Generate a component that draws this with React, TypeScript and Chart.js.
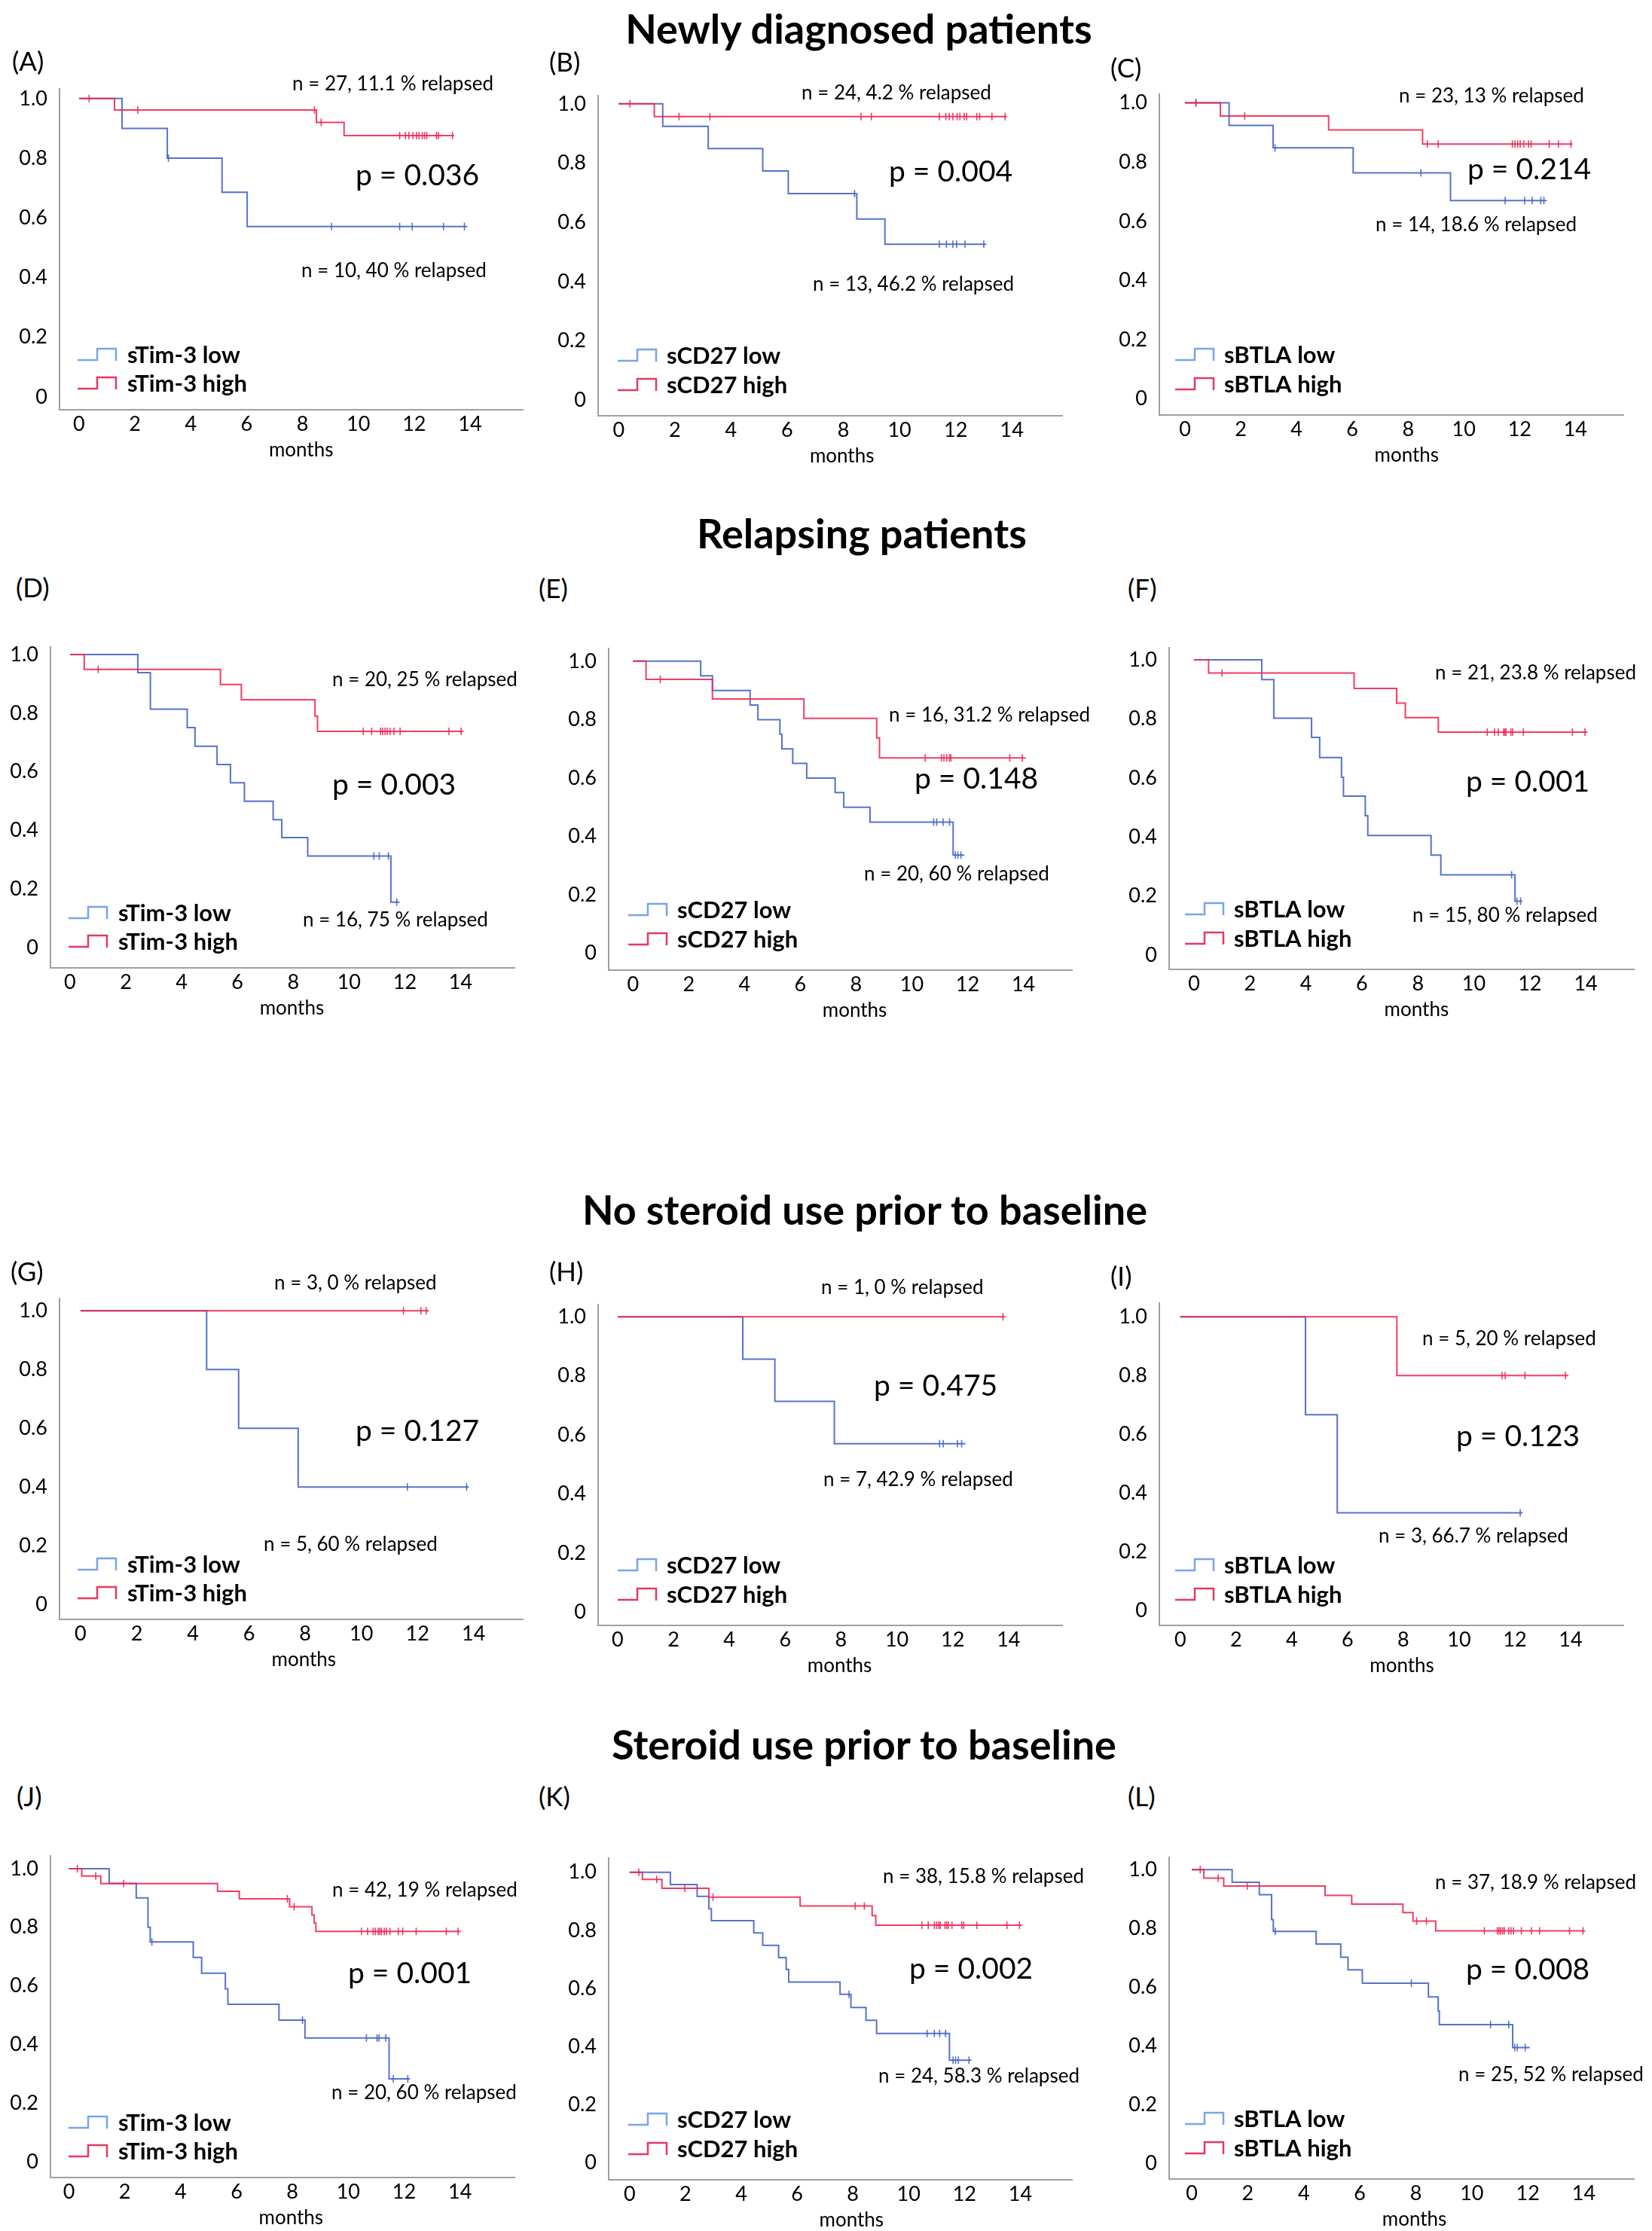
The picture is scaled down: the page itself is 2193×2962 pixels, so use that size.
import React, { useEffect, useRef } from "react";
import { Chart, registerables } from "chart.js";

Chart.register(...registerables);

if (typeof document !== "undefined") {
  document.body.style.margin = "0";
}

// ======================= DATA =======================
const monthTicks = [0, 2, 4, 6, 8, 10, 12, 14];
const survivalTicks = [0, 0.2, 0.4, 0.6, 0.8, 1.0];
const xAxisTitle = "months";
const markerNames = ["sTim-3", "sCD27", "sBTLA"];
const sectionTitles = [
  "Newly diagnosed patients",
  "Relapsing patients",
  "No steroid use prior to baseline",
  "Steroid use prior to baseline",
];
const panelLetters = ["A", "B", "C", "D", "E", "F", "G", "H", "I", "J", "K", "L"];
const pValues = ["0.036", "0.004", "0.214", "0.003", "0.148", "0.001", "0.127", "0.475", "0.123", "0.001", "0.002", "0.008"];
const highSummaries = [
  "n = 27, 11.1 % relapsed", "n = 24, 4.2 % relapsed", "n = 23, 13 % relapsed",
  "n = 20, 25 % relapsed", "n = 16, 31.2 % relapsed", "n = 21, 23.8 % relapsed",
  "n = 3, 0 % relapsed", "n = 1, 0 % relapsed", "n = 5, 20 % relapsed",
  "n = 42, 19 % relapsed", "n = 38, 15.8 % relapsed", "n = 37, 18.9 % relapsed",
];
const lowSummaries = [
  "n = 10, 40 % relapsed", "n = 13, 46.2 % relapsed", "n = 14, 18.6 % relapsed",
  "n = 16, 75 % relapsed", "n = 20, 60 % relapsed", "n = 15, 80 % relapsed",
  "n = 5, 60 % relapsed", "n = 7, 42.9 % relapsed", "n = 3, 66.7 % relapsed",
  "n = 20, 60 % relapsed", "n = 24, 58.3 % relapsed", "n = 25, 52 % relapsed",
];

// Kaplan-Meier steps: [month, survival after event]; first = start, last = end of follow-up
const aLowSteps = [[0, 1], [1.54, 0.9], [3.16, 0.8], [5.12, 0.686], [6.02, 0.571], [13.9, 0.571]];
const aLowCensored = [3.2, 9.04, 11.48, 11.93, 13.05, 13.8];
const aHighSteps = [[0, 1], [1.27, 0.962], [8.5, 0.92], [9.49, 0.876], [13.43, 0.876]];
const aHighCensored = [0.36, 2.1, 8.43, 8.67, 11.48, 11.69, 11.81, 11.96, 12.08, 12.17, 12.29, 12.37, 12.45, 12.8, 12.87, 13.37];

const bLowSteps = [[0, 1], [1.57, 0.924], [3.19, 0.849], [5.13, 0.773], [6.04, 0.697], [8.48, 0.611], [9.48, 0.526], [13.09, 0.526]];
const bLowCensored = [8.4, 11.42, 11.67, 11.9, 12.03, 12.33, 13.0];
const bHighSteps = [[0, 1], [1.27, 0.957], [13.82, 0.957]];
const bHighCensored = [0.4, 2.15, 3.25, 8.63, 9.0, 11.42, 11.65, 11.77, 11.9, 12.05, 12.15, 12.3, 12.39, 12.75, 12.85, 13.29, 13.76];

const cLowSteps = [[0, 1], [1.58, 0.924], [3.16, 0.848], [6.03, 0.764], [9.52, 0.67], [12.97, 0.67]];
const cLowCensored = [0.39, 3.23, 8.46, 11.48, 12.18, 12.45, 12.76, 12.87];
const cHighSteps = [[0, 1], [1.27, 0.956], [5.15, 0.909], [8.52, 0.861], [13.9, 0.861]];
const cHighCensored = [0.39, 2.14, 8.69, 9.08, 11.74, 11.83, 11.93, 12.02, 12.15, 12.32, 12.41, 13.06, 13.39, 13.84];

const dLowSteps = [[0, 1], [2.43, 0.938], [2.88, 0.814], [4.2, 0.751], [4.48, 0.687], [5.27, 0.625], [5.75, 0.563], [6.25, 0.5], [7.28, 0.437], [7.59, 0.376], [8.52, 0.313], [11.5, 0.156], [11.81, 0.156]];
const dLowCensored = [10.89, 11.08, 11.41, 11.71];
const dHighSteps = [[0, 1], [0.51, 0.949], [5.39, 0.898], [6.14, 0.846], [8.78, 0.79], [8.87, 0.738], [14.1, 0.738]];
const dHighCensored = [1.01, 10.51, 10.81, 11.13, 11.2, 11.29, 11.37, 11.47, 11.61, 11.83, 13.58, 14.02];

const eLowSteps = [[0, 1], [2.43, 0.95], [2.85, 0.9], [4.2, 0.85], [4.48, 0.8], [5.27, 0.75], [5.34, 0.7], [5.73, 0.65], [6.23, 0.6], [7.25, 0.55], [7.56, 0.5], [8.5, 0.449], [11.48, 0.336], [11.88, 0.336]];
const eLowCensored = [10.78, 10.89, 11.12, 11.35, 11.56, 11.65, 11.76];
const eHighSteps = [[0, 1], [0.47, 0.938], [2.85, 0.871], [6.13, 0.804], [8.74, 0.737], [8.84, 0.669], [14.08, 0.669]];
const eHighCensored = [0.98, 10.48, 11.06, 11.15, 11.25, 11.35, 11.4, 13.51, 13.96];

const fLowSteps = [[0, 1], [2.42, 0.933], [2.85, 0.802], [4.2, 0.737], [4.49, 0.669], [5.27, 0.602], [5.34, 0.538], [6.12, 0.472], [6.21, 0.405], [8.47, 0.339], [8.82, 0.272], [11.47, 0.183], [11.73, 0.183]];
const fLowCensored = [11.35, 11.54, 11.67];
const fHighSteps = [[0, 1], [0.52, 0.955], [5.72, 0.903], [7.24, 0.853], [7.55, 0.804], [8.73, 0.755], [14.06, 0.755]];
const fHighCensored = [1.0, 10.48, 10.74, 10.87, 11.06, 11.11, 11.15, 11.32, 11.38, 11.77, 13.52, 13.97];

const gLowSteps = [[0, 1], [4.49, 0.8], [5.63, 0.6], [7.75, 0.4], [13.83, 0.4]];
const gLowCensored = [11.64, 13.75];
const gHighSteps = [[0, 1], [12.4, 1]];
const gHighCensored = [11.5, 12.12, 12.31];

const hLowSteps = [[0, 1], [4.48, 0.857], [5.63, 0.714], [7.76, 0.571], [12.46, 0.571]];
const hLowCensored = [11.53, 11.66, 12.17, 12.32];
const hHighSteps = [[0, 1], [13.89, 1]];
const hHighCensored = [13.8];

const iLowSteps = [[0, 1], [4.49, 0.667], [5.63, 0.333], [12.28, 0.333]];
const iLowCensored = [12.19];
const iHighSteps = [[0, 1], [7.77, 0.8], [13.92, 0.8]];
const iHighCensored = [11.54, 11.65, 12.36, 13.81];

const jLowSteps = [[0, 1], [1.44, 0.95], [2.41, 0.9], [2.83, 0.8], [2.91, 0.75], [4.45, 0.697], [4.75, 0.643], [5.6, 0.59], [5.69, 0.537], [7.52, 0.483], [8.45, 0.422], [11.46, 0.283], [12.21, 0.283]];
const jLowCensored = [2.97, 8.36, 10.65, 11.03, 11.1, 11.34, 11.61, 12.13];
const jHighSteps = [[0, 1], [0.46, 0.975], [1.14, 0.949], [5.32, 0.923], [6.1, 0.897], [7.9, 0.87], [8.7, 0.842], [8.78, 0.815], [8.84, 0.786], [14.02, 0.786]];
const jHighCensored = [0.3, 0.96, 1.96, 7.82, 8.06, 10.47, 10.69, 10.89, 10.97, 11.07, 11.13, 11.19, 11.29, 11.37, 11.49, 11.79, 11.95, 12.43, 13.51, 13.93];

const kLowSteps = [[0, 1], [1.46, 0.958], [2.42, 0.917], [2.84, 0.874], [2.93, 0.833], [4.45, 0.791], [4.77, 0.748], [5.34, 0.706], [5.61, 0.665], [5.7, 0.622], [7.54, 0.58], [7.93, 0.534], [8.47, 0.49], [8.85, 0.445], [11.46, 0.353], [12.25, 0.353]];
const kLowCensored = [7.86, 10.66, 10.92, 11.11, 11.32, 11.59, 11.68, 11.78, 12.16];
const kHighSteps = [[0, 1], [0.46, 0.975], [1.16, 0.945], [2.84, 0.914], [6.11, 0.884], [8.69, 0.851], [8.82, 0.818], [14.06, 0.818]];
const kHighCensored = [0.33, 0.97, 1.98, 2.99, 8.08, 8.41, 10.47, 10.7, 10.92, 11.0, 11.08, 11.13, 11.3, 11.36, 11.42, 11.55, 11.9, 11.97, 12.44, 13.52, 13.97];

const lLowSteps = [[0, 1], [1.44, 0.957], [2.41, 0.915], [2.85, 0.83], [2.91, 0.79], [4.44, 0.747], [5.32, 0.702], [5.58, 0.659], [6.09, 0.614], [8.45, 0.567], [8.8, 0.519], [8.84, 0.473], [11.46, 0.395], [12.07, 0.395]];
const lLowCensored = [2.98, 7.84, 10.67, 11.32, 11.53, 11.62, 11.91];
const lHighSteps = [[0, 1], [0.43, 0.971], [1.14, 0.944], [4.76, 0.912], [5.71, 0.883], [7.54, 0.854], [7.9, 0.825], [8.71, 0.792], [14.05, 0.792]];
const lHighCensored = [0.3, 0.94, 1.98, 8.03, 8.38, 10.45, 10.91, 10.97, 11.03, 11.1, 11.16, 11.32, 11.4, 11.49, 11.77, 12.13, 12.42, 13.49, 13.97];

const lowStepsByPanel = [aLowSteps, bLowSteps, cLowSteps, dLowSteps, eLowSteps, fLowSteps, gLowSteps, hLowSteps, iLowSteps, jLowSteps, kLowSteps, lLowSteps];
const lowCensoredByPanel = [aLowCensored, bLowCensored, cLowCensored, dLowCensored, eLowCensored, fLowCensored, gLowCensored, hLowCensored, iLowCensored, jLowCensored, kLowCensored, lLowCensored];
const highStepsByPanel = [aHighSteps, bHighSteps, cHighSteps, dHighSteps, eHighSteps, fHighSteps, gHighSteps, hHighSteps, iHighSteps, jHighSteps, kHighSteps, lHighSteps];
const highCensoredByPanel = [aHighCensored, bHighCensored, cHighCensored, dHighCensored, eHighCensored, fHighCensored, gHighCensored, hHighCensored, iHighCensored, jHighCensored, kHighCensored, lHighCensored];

// ======================= LAYOUT / STYLE =======================
const PAGE_W = 2193;
const PAGE_H = 2962;
const ML = 80; // y-axis area width
const MR = 10;
const MT = 20;
const MB = 80; // x-axis area height
const FONT = "Lato, 'Open Sans', sans-serif";
const LOW_COLOR = "rgba(66, 100, 200, 0.9)";
const HIGH_COLOR = "rgba(238, 40, 84, 0.9)";
const LOW_ICON = "#78a4ea";
const HIGH_ICON = "#e43a62";
const AXIS_COLOR = "#a0a0a0";

// plot area boxes [left, top, right, bottom] in page pixels
const plotBoxes = [
  [79, 106, 694, 544], [794, 115, 1410, 552], [1539, 113, 2155, 551],
  [67, 847, 683, 1285], [808, 849, 1423, 1288], [1552, 848, 2169, 1287],
  [79, 1712, 694, 2150], [794, 1720, 1410, 2158], [1539, 1718, 2155, 2158],
  [67, 2452, 683, 2891], [808, 2455, 1423, 2894], [1552, 2454, 2169, 2893],
];
const xRanges = [
  [-0.70, 15.89], [-0.73, 15.79], [-0.92, 15.72],
  [-0.70, 15.93], [-0.87, 15.74], [-0.89, 15.72],
  [-0.75, 15.75], [-0.70, 15.92], [-0.75, 15.89],
  [-0.66, 15.95], [-0.75, 15.85], [-0.81, 15.79],
];
const yRanges = [
  [-0.043, 1.032], [-0.053, 1.027], [-0.054, 1.029],
  [-0.068, 1.025], [-0.058, 1.043], [-0.048, 1.04],
  [-0.051, 1.041], [-0.044, 1.041], [-0.05, 1.046],
  [-0.054, 1.043], [-0.059, 1.048], [-0.052, 1.041],
];
const sectionPos = [[1140, 38], [1144, 708], [1148, 1606], [1147, 2316]];
const letterPos = [
  [16, 80], [729, 81], [1474, 89],
  [21, 779], [715, 780], [1497, 780],
  [14, 1687], [729, 1687], [1474, 1693],
  [22, 2384], [715, 2384], [1497, 2384],
];
const highTextPos = [
  [388, 110], [1064, 122], [1857, 126],
  [441, 901], [1180, 948], [1905, 892],
  [364, 1702], [1090, 1708], [1888, 1776],
  [441, 2508], [1172, 2490], [1905, 2498],
];
const lowTextPos = [
  [400, 358], [1079, 376], [1826, 297],
  [402, 1220], [1147, 1159], [1875, 1214],
  [350, 2049], [1093, 1963], [1830, 2038],
  [440, 2777], [1166, 2755], [1936, 2753],
];
const pTextPos = [
  [472, 231], [1180, 226], [1948, 223],
  [441, 1040], [1214, 1032], [1946, 1036],
  [472, 1898], [1160, 1838], [1933, 1905],
  [462, 2618], [1207, 2612], [1946, 2613],
];
// legend offsets per column: [iconDx, textDx, row1Dy, row2Dy] relative to plot left/bottom
const legendOffsets = [
  [24, 90, -72, -34],
  [26, 91, -79, -40],
  [21, 86, -79, -40],
];

function survivalAt(steps: number[][], t: number): number {
  let s = steps[0][1];
  for (const [x, y] of steps) {
    if (x <= t + 1e-9) s = y;
  }
  return s;
}

const kmDecor = {
  id: "kmDecor",
  afterDraw(chart: any, _args: any, opts: any) {
    const { ctx, chartArea, scales } = chart;
    ctx.save();
    ctx.fillStyle = "#000";
    ctx.font = `26px ${FONT}`;
    ctx.textAlign = "center";
    ctx.textBaseline = "middle";
    ctx.fillText(opts.xTitle, scales.x.getPixelForValue(opts.xTitleAt), chartArea.bottom + 54);
    const [iconDx, textDx, r1, r2] = opts.legend;
    const rows = [r1, r2];
    opts.items.forEach((item: any, k: number) => {
      const cy = chartArea.bottom + rows[k];
      const x = chartArea.left + iconDx;
      ctx.strokeStyle = item.color;
      ctx.lineWidth = 2.5;
      ctx.beginPath();
      ctx.moveTo(x, cy + 6);
      ctx.lineTo(x + 26, cy + 6);
      ctx.lineTo(x + 26, cy - 9);
      ctx.lineTo(x + 51, cy - 9);
      ctx.lineTo(x + 51, cy + 7);
      ctx.stroke();
      ctx.fillStyle = "#000";
      ctx.font = `bold 31px ${FONT}`;
      ctx.textAlign = "left";
      ctx.textBaseline = "middle";
      ctx.fillText(item.label, chartArea.left + textDx, cy);
    });
    ctx.restore();
  },
};

function buildConfig(i: number): any {
  const col = i % 3;
  const marker = markerNames[col];
  const lowLabel = `${marker} low`;
  const highLabel = `${marker} high`;
  const lowSteps = lowStepsByPanel[i];
  const highSteps = highStepsByPanel[i];
  const lineDs = (label: string, steps: number[][], color: string) => ({
    label,
    data: steps.map(([x, y]) => ({ x, y })),
    stepped: "before",
    borderColor: color,
    borderWidth: 2,
    pointRadius: 0,
    fill: false,
    tension: 0,
  });
  const censorDs = (label: string, steps: number[][], times: number[], color: string) => ({
    label,
    data: times.map((t) => ({ x: t, y: survivalAt(steps, t) })),
    showLine: false,
    pointStyle: "line",
    pointRotation: 90,
    pointRadius: 5,
    pointBorderColor: color,
    pointBackgroundColor: color,
    pointBorderWidth: 1.6,
  });
  const tickFont = { family: FONT, size: 27 };
  return {
    type: "line",
    data: {
      datasets: [
        censorDs(highLabel + " censored", highSteps, highCensoredByPanel[i], HIGH_COLOR),
        censorDs(lowLabel + " censored", lowSteps, lowCensoredByPanel[i], LOW_COLOR),
        lineDs(highLabel, highSteps, HIGH_COLOR),
        lineDs(lowLabel, lowSteps, LOW_COLOR),
      ],
    },
    options: {
      responsive: false,
      maintainAspectRatio: false,
      animation: false,
      devicePixelRatio: 1,
      events: [],
      layout: { padding: { left: 0, right: MR, top: MT, bottom: 0 } },
      plugins: {
        legend: { display: false },
        tooltip: { enabled: false },
        kmDecor: {
          xTitle: xAxisTitle,
          xTitleAt: 7.95,
          legend: legendOffsets[col],
          items: [
            { label: lowLabel, color: LOW_ICON },
            { label: highLabel, color: HIGH_ICON },
          ],
        },
      },
      scales: {
        x: {
          type: "linear",
          min: xRanges[i][0],
          max: xRanges[i][1],
          afterBuildTicks: (s: any) => {
            s.ticks = monthTicks.map((value) => ({ value }));
          },
          afterFit: (s: any) => {
            s.height = MB;
          },
          grid: { display: false, drawTicks: false, tickLength: 0 },
          border: { display: true, color: AXIS_COLOR, width: 2 },
          ticks: { font: tickFont, color: "#000", padding: 3, autoSkip: false, maxRotation: 0, minRotation: 0 },
        },
        y: {
          type: "linear",
          min: yRanges[i][0],
          max: yRanges[i][1],
          afterBuildTicks: (s: any) => {
            s.ticks = survivalTicks.map((value) => ({ value }));
          },
          afterFit: (s: any) => {
            s.width = ML;
          },
          grid: { display: false, drawTicks: false, tickLength: 0 },
          border: { display: true, color: AXIS_COLOR, width: 2 },
          ticks: {
            font: tickFont,
            color: "#000",
            padding: 16,
            autoSkip: false,
            callback: (v: any) => (Number(v) === 0 ? "0" : Number(v).toFixed(1)),
          },
        },
      },
    },
    plugins: [kmDecor],
  };
}

function Panel({ index }: { index: number }) {
  const ref = useRef<HTMLCanvasElement | null>(null);
  const [L, T, R, B] = plotBoxes[index];
  const w = R - L + ML + MR;
  const h = B - T + MT + MB;
  useEffect(() => {
    if (!ref.current) return;
    const chart = new Chart(ref.current, buildConfig(index));
    return () => chart.destroy();
  }, [index]);
  return (
    <canvas
      ref={ref}
      width={w}
      height={h}
      style={{ position: "absolute", left: L - ML, top: T - MT, width: w, height: h }}
    />
  );
}

const textBase: React.CSSProperties = {
  position: "absolute",
  whiteSpace: "nowrap",
  lineHeight: 1,
  color: "#000",
  fontFamily: FONT,
};

export default function App() {
  return (
    <div style={{ position: "relative", width: PAGE_W, height: PAGE_H, background: "#fff", overflow: "hidden" }}>
      {sectionTitles.map((t, k) => (
        <div
          key={t}
          style={{ ...textBase, left: sectionPos[k][0], top: sectionPos[k][1], transform: "translate(-50%, -50%)", fontSize: 54, fontWeight: 700 }}
        >
          {t}
        </div>
      ))}
      {panelLetters.map((letter, k) => (
        <React.Fragment key={letter}>
          <Panel index={k} />
          <div style={{ ...textBase, left: letterPos[k][0], top: letterPos[k][1], transform: "translateY(-50%)", fontSize: 35 }}>
            ({letter})
          </div>
          <div style={{ ...textBase, left: highTextPos[k][0], top: highTextPos[k][1], transform: "translateY(-50%)", fontSize: 26 }}>
            {highSummaries[k]}
          </div>
          <div style={{ ...textBase, left: lowTextPos[k][0], top: lowTextPos[k][1], transform: "translateY(-50%)", fontSize: 26 }}>
            {lowSummaries[k]}
          </div>
          <div style={{ ...textBase, left: pTextPos[k][0], top: pTextPos[k][1], transform: "translateY(-50%)", fontSize: 39 }}>
            p = {pValues[k]}
          </div>
        </React.Fragment>
      ))}
    </div>
  );
}
